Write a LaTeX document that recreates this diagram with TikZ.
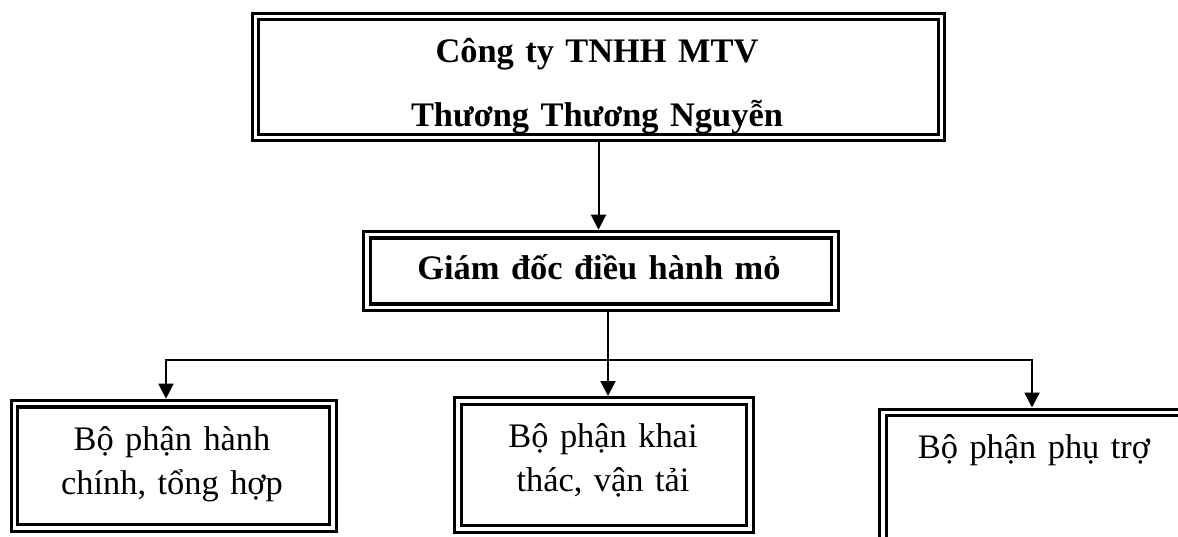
\documentclass[tikz,border=0pt]{standalone}
\usepackage{fontspec}
\setmainfont{Liberation Serif}
\usetikzlibrary{arrows.meta}
\tikzset{
	dbox/.style={draw, double, line width=3.3pt, double distance=3.3pt, outer sep=5pt, inner sep=0pt},
	headtext/.style={anchor=base, inner sep=0pt, align=center, text width=#1, font=\bfseries\fontsize{34.4}{64}\selectfont},
	boxtext/.style={anchor=base, inner sep=0pt, align=center, text width=#1, font=\fontsize{34.4}{44}\selectfont},
	conn/.style={line width=2pt},
	arr/.style={-{Triangle[length=15pt,width=15pt]}},
	dblarr/.style={{Triangle[length=15pt,width=15pt]}-{Triangle[length=15pt,width=15pt]}}
}
\begin{document}
\begin{tikzpicture}[x=1pt, y=-1pt]
			\useasboundingbox (0,0) rectangle (1178,537);
			\clip (0,0) rectangle (1178,537);
			\node[dbox, minimum width=686pt, minimum height=121pt] (congty) at (598.5,77) {};
			\begin{scope}
				\clip ([yshift=10pt]congty.south west) rectangle (congty.north east);
				\node[headtext=640pt] (congtytext) at (597,63) {Công ty TNHH MTV\\Thương Thương Nguyễn};
			\end{scope}
			\node[dbox, minimum width=468pt, minimum height=72.5pt] (giamdoc) at (601,271) {};
			\node[headtext=460pt] (giamdoctext) at (599,280) {Giám đốc điều hành mỏ};
			\node[dbox, minimum width=318.5pt, minimum height=124.3pt] (hanhchinh) at (173.75,465.85) {};
			\node[boxtext=300pt] (hanhchinhtext) at (172,450) {Bộ phận hành\\chính, tổng hợp};
			\node[dbox, minimum width=292pt, minimum height=128pt] (khaithac) at (604,465) {};
			\node[boxtext=280pt] (khaithactext) at (603,447) {Bộ phận khai\\thác, vận tải};
			\node[dbox, minimum width=302pt, minimum height=132.5pt] (phutro) at (1034,478.75) {};
			\node[boxtext=290pt] (phutrotext) at (1034,458) {Bộ phận phụ trợ};
			\coordinate (bus) at (608,360);
			\coordinate (busL) at (166,360);
			\coordinate (busR) at (1032,360);
			\draw[conn, arr] (congty.south) -- (congty.south |- giamdoc.north);
			\draw[conn] (giamdoc.south -| bus) -- (bus);
			\draw[conn, arr] (bus) -- (bus |- khaithac.north);
			\draw[conn, dblarr] (busL |- hanhchinh.north) -- (busL) -- (busR) -- (busR |- phutro.north);
		\end{tikzpicture}
\end{document}
